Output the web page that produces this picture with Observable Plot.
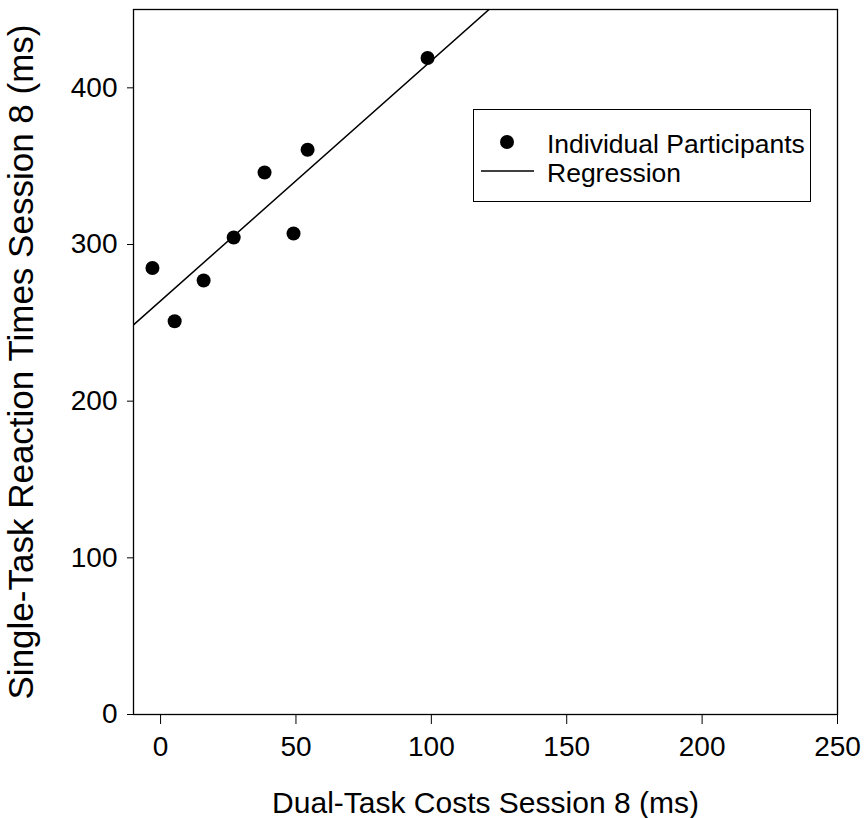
<!DOCTYPE html>
<html>
<head>
<meta charset="utf-8">
<script src="https://cdn.jsdelivr.net/npm/d3@7"></script>
<script src="https://cdn.jsdelivr.net/npm/@observablehq/plot@0.6"></script>
<style>
  html, body { margin: 0; padding: 0; background: #fff; }
  #wrap { position: relative; width: 865px; height: 818px; font-family: "Liberation Sans", Arial, sans-serif; }
  #legend { position: absolute; left: 473px; top: 109px; width: 336px; height: 91px; border: 1px solid #000; background: #fff; }
</style>
</head>
<body>
<div id="wrap">
  <div id="chart"></div>
  <div id="legend"></div>
</div>
<script>
// Data
const dualTaskCosts = [-3, 5.2, 15.9, 27, 38.4, 49.1, 54.3, 98.6];
const singleTaskRT  = [285, 251, 277, 304.5, 346, 307, 360.5, 419];
const xTicks = [0, 50, 100, 150, 200, 250];
const yTicks = [0, 100, 200, 300, 400];
const xDomain = [-10, 250];
const yDomain = [0, 450];
const xTitle = "Dual-Task Costs Session 8 (ms)";
const yTitle = "Single-Task Reaction Times Session 8 (ms)";
const legendLabels = ["Individual Participants", "Regression"];

const points = dualTaskCosts.map((x, i) => ({x, y: singleTaskRT[i]}));

// least-squares regression from the data
const mx = d3.mean(dualTaskCosts), my = d3.mean(singleTaskRT);
const sxy = d3.sum(points, d => (d.x - mx) * (d.y - my));
const sxx = d3.sum(points, d => (d.x - mx) ** 2);
const slope = sxy / sxx, intercept = my - slope * mx;
const regLine = xDomain.map(x => ({x, y: intercept + slope * x}));

const font = "Liberation Sans, Arial, sans-serif";

const chart = Plot.plot({
  width: 865,
  height: 818,
  marginLeft: 133,
  marginRight: 28,
  marginTop: 9,
  marginBottom: 104,
  style: {fontFamily: font, fontSize: "28px", color: "#000", background: "#fff"},
  x: {domain: xDomain, ticks: xTicks},
  y: {domain: yDomain, ticks: yTicks},
  marks: [
    Plot.frame({stroke: "#000", strokeWidth: 1.3}),
    Plot.axisX({ticks: xTicks, tickSize: 10, tickPadding: 12, tickFormat: d => String(d), label: null, fontSize: 28}),
    Plot.axisX({ticks: [], label: xTitle, labelAnchor: "center", labelArrow: "none", labelOffset: 98, fontSize: 30}),
    Plot.axisY({ticks: yTicks, tickSize: 6, tickPadding: 10, tickFormat: d => String(d), label: null, fontSize: 28}),
    Plot.axisY({ticks: [], label: yTitle, labelAnchor: "center", labelArrow: "none", labelOffset: 125, fontSize: 35}),
    Plot.line(regLine, {x: "x", y: "y", stroke: "#000", strokeWidth: 1.5, clip: true}),
    Plot.dot(points, {x: "x", y: "y", r: 7, fill: "#000", stroke: "none"})
  ]
});
document.getElementById("chart").appendChild(chart);

// Legend (inside plot frame, as in the reference)
const lg = d3.select("#legend").append("svg").attr("width", 336).attr("height", 91)
  .style("font-family", font).style("font-size", "26.5px");
lg.append("circle").attr("cx", 33).attr("cy", 32).attr("r", 7).attr("fill", "#000");
lg.append("line").attr("x1", 7).attr("x2", 60).attr("y1", 61).attr("y2", 61).attr("stroke", "#000").attr("stroke-width", 1.5);
lg.append("text").attr("x", 73).attr("y", 43).text(legendLabels[0]);
lg.append("text").attr("x", 73).attr("y", 72).text(legendLabels[1]);
</script>
</body>
</html>
